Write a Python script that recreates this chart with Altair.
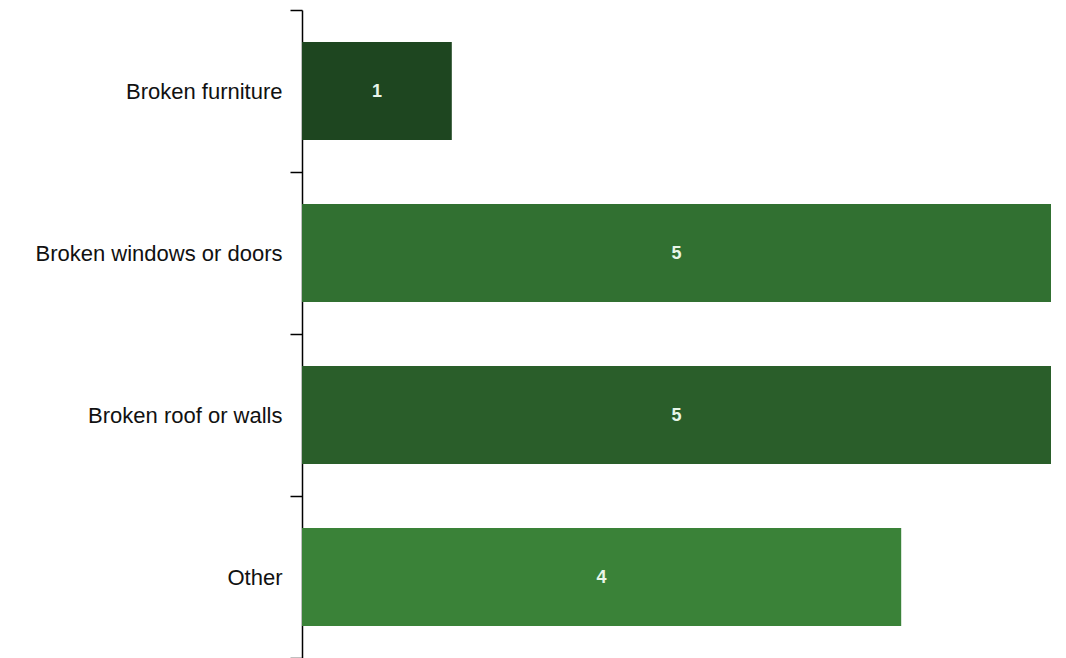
import altair as alt
import pandas as pd

categories = ["Broken furniture", "Broken windows or doors", "Broken roof or walls", "Other"]
values = [1, 5, 5, 4]
colors = ["#1e4620", "#317031", "#2a5e2a", "#3a8238"]

df = pd.DataFrame({"category": categories, "value": values})
df["half"] = df["value"] / 2

y = alt.Y("category:N", sort=categories, title=None,
          scale=alt.Scale(paddingInner=0, paddingOuter=0),
          axis=alt.Axis(tickBand="extent", domainColor="#000000", tickColor="#000000",
                        tickSize=12, labelPadding=8, labelFontSize=22, labelColor="#111111",
                        labelFont="Liberation Sans", labelLimit=400,
                        domainWidth=1.5, tickWidth=1.5))

bars = alt.Chart(df).mark_bar(height={"band": 0.605}).encode(
    x=alt.X("value:Q", scale=alt.Scale(domain=[0, 5], nice=False), axis=None),
    y=y,
    color=alt.Color("category:N", scale=alt.Scale(domain=categories, range=colors), legend=None),
)

labels = alt.Chart(df).mark_text(color="#e8f5e8", fontSize=18, fontWeight="bold",
                                 font="Liberation Sans", dy=1).encode(
    x=alt.X("half:Q"),
    y=alt.Y("category:N", sort=categories),
    text=alt.Text("value:Q"),
)

chart = (bars + labels).properties(
    width=749, height=648,
    autosize=alt.AutoSizeParams(type="none"),
    padding={"left": 294, "top": 2, "right": 0, "bottom": 0},
).configure_view(stroke=None)

chart.save("out.html", embed_options={"renderer": "svg", "actions": False})
